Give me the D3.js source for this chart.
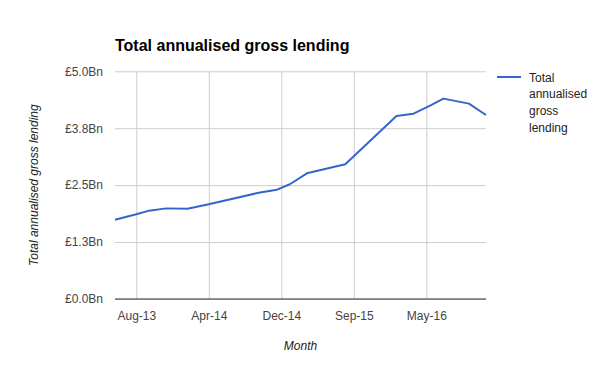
<!DOCTYPE html>
<html>
<head>
<meta charset="utf-8">
<script src="https://cdnjs.cloudflare.com/ajax/libs/d3/7.8.5/d3.min.js"></script>
<style>
  body { margin: 0; background: #fff; }
  text { font-family: Arial, "Liberation Sans", sans-serif; }
</style>
</head>
<body>
<svg></svg>
<script>
// period index along the category axis, and lending in £bn
const periods = [0, 5, 8, 12, 17, 22, 34, 38, 41, 45, 50, 54, 66, 70, 74, 77, 83, 87];
const lending = [1.74, 1.86, 1.94, 1.99, 1.98, 2.08, 2.34, 2.40, 2.52, 2.76, 2.87, 2.96, 4.02, 4.07, 4.25, 4.40, 4.29, 4.04];

const xTickIdx = [5, 22, 39, 56, 73];
const xTickLabels = ['Aug-13', 'Apr-14', 'Dec-14', 'Sep-15', 'May-16'];
const yTicks = [0, 1.25, 2.5, 3.75, 5];

const size = {w: 600, h: 371};
const plot = {l: 115, r: 486, t: 71.3, b: 299};

const svg = d3.select('svg')
    .attr('width', size.w)
    .attr('height', size.h);

const x = d3.scaleLinear().domain([0, 87]).range([plot.l, plot.r]);
const y = d3.scaleLinear().domain([0, 5]).range([plot.b, plot.t]);

// title
svg.append('text')
    .attr('x', 115).attr('y', 51)
    .style('font-size', '16px').style('font-weight', 'bold')
    .attr('fill', '#000')
    .text('Total annualised gross lending');

// horizontal gridlines + y labels
const yAxis = d3.axisLeft(y)
    .tickValues(yTicks)
    .tickSize(-(plot.r - plot.l))
    .tickPadding(12)
    .tickFormat(d => '£' + d3.format('.1f')(d) + 'Bn');

let yG = svg.append('g')
    .attr('transform', `translate(${plot.l},0)`)
    .call(yAxis);
yG.select('.domain').remove();
yG.selectAll('line').attr('stroke', '#ccc');
yG.selectAll('text')
    .attr('fill', '#444')
    .style('font-size', '12px')
    .style('font-family', 'Arial, "Liberation Sans", sans-serif');

// vertical gridlines + x labels
const xAxis = d3.axisBottom(x)
    .tickValues(xTickIdx)
    .tickSize(-(plot.b - plot.t))
    .tickPadding(12)
    .tickFormat((d, i) => xTickLabels[i]);

let xG = svg.append('g')
    .attr('transform', `translate(0,${plot.b})`)
    .call(xAxis);
xG.select('.domain').remove();
xG.selectAll('line').attr('stroke', '#ccc');
xG.selectAll('text')
    .attr('fill', '#444')
    .style('font-size', '12px')
    .style('font-family', 'Arial, "Liberation Sans", sans-serif');

// baseline
svg.append('line')
    .attr('x1', plot.l).attr('x2', plot.r)
    .attr('y1', y(0)).attr('y2', y(0))
    .attr('stroke', '#333').attr('stroke-width', 1.2);

// series line
const line = d3.line()
    .x((d, i) => x(periods[i]))
    .y(d => y(d));

svg.append('path')
    .datum(lending)
    .attr('d', line)
    .attr('fill', 'none')
    .attr('stroke', '#3366cc')
    .attr('stroke-width', 2)
    .attr('stroke-linejoin', 'round');

// axis titles
svg.append('text')
    .attr('x', (plot.l + plot.r) / 2).attr('y', 350)
    .attr('text-anchor', 'middle')
    .style('font-size', '12px').style('font-style', 'italic')
    .attr('fill', '#222')
    .text('Month');

svg.append('text')
    .attr('transform', `translate(38,${(plot.t + plot.b) / 2}) rotate(-90)`)
    .attr('text-anchor', 'middle')
    .style('font-size', '12px').style('font-style', 'italic')
    .attr('fill', '#222')
    .text('Total annualised gross lending');

// legend
const legendLines = ['Total', 'annualised', 'gross', 'lending'];
let legG = svg.append('g').attr('transform', 'translate(497,77)');
legG.append('line')
    .attr('x1', 0).attr('x2', 24)
    .attr('stroke', '#3366cc').attr('stroke-width', 2);
legG.selectAll('text')
    .data(legendLines)
    .enter()
    .append('text')
    .attr('x', 32)
    .attr('y', (d, i) => 4.5 + i * 16.7)
    .style('font-size', '12px')
    .attr('fill', '#222')
    .text(d => d);
</script>
</body>
</html>
